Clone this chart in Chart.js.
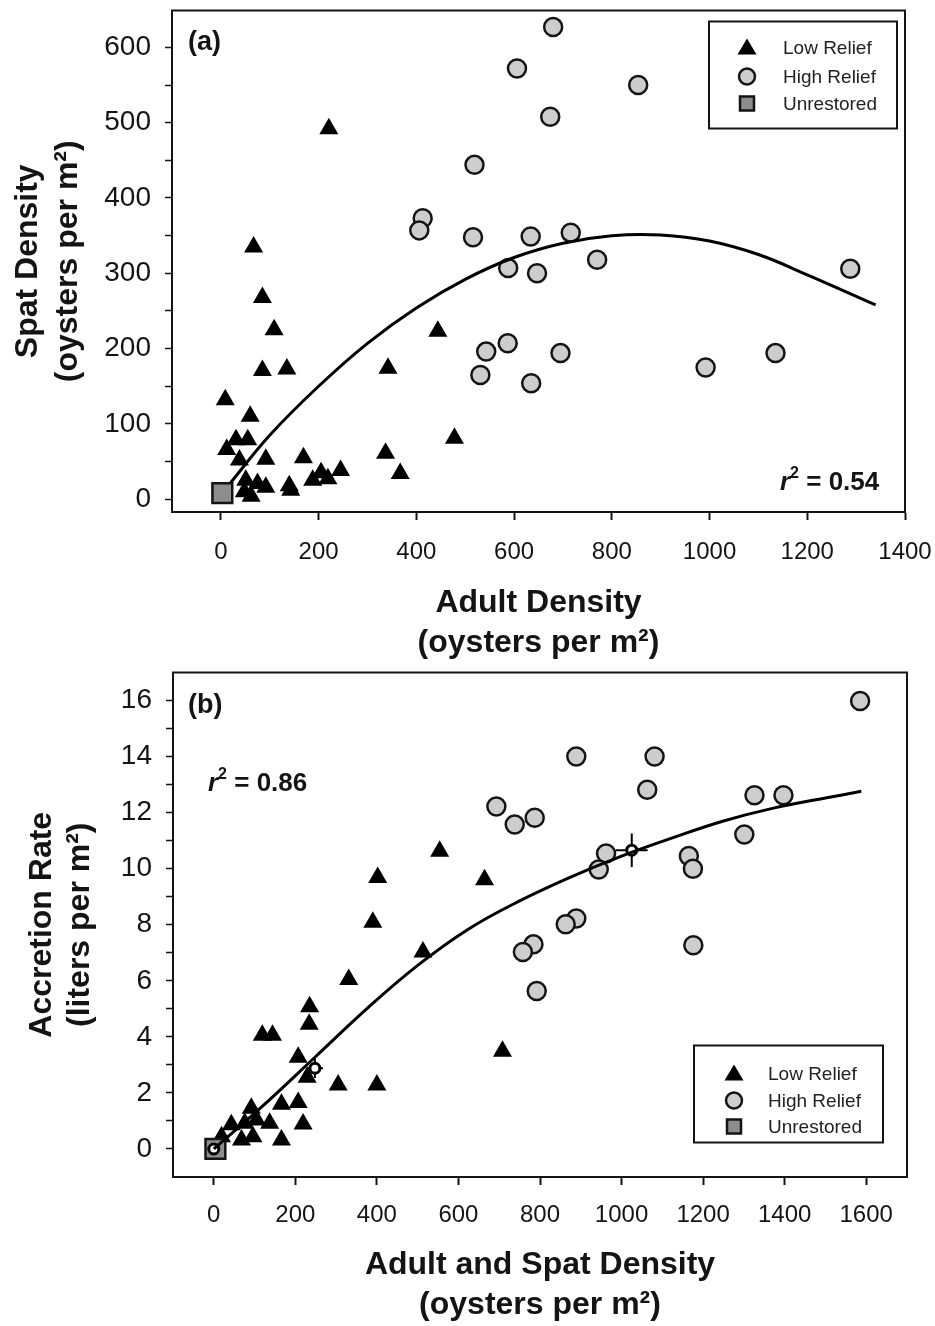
<!DOCTYPE html>
<html>
<head>
<meta charset="utf-8">
<script src="https://cdn.jsdelivr.net/npm/chart.js@4.4.1/dist/chart.umd.min.js"></script>
<style>
  html, body { margin: 0; padding: 0; background: #fff; }
  body { width: 935px; height: 1326px; position: relative; overflow: hidden; }
  canvas { position: absolute; left: 0; }
  #chartA { top: -6px; }
  #chartB { top: 656px; }
</style>
</head>
<body>
<canvas id="chartA" width="935" height="674"></canvas>
<canvas id="chartB" width="935" height="670"></canvas>
<script>
// #### Data, panel (a): adult density vs spat density (oysters per m2)
const lowReliefA = [
  [221, 492], [67, 335], [85, 268], [109, 225], [85, 171], [135, 173], [444, 223], [342, 174],
  [9, 132], [60, 110], [478, 81], [31, 79], [55, 79], [12, 66], [337, 61], [38, 52], [92, 53],
  [169, 55], [367, 34], [245, 38], [205, 35], [219, 27], [188, 25], [140, 18], [75, 21],
  [92, 16], [51, 25], [48, 10], [62, 4], [143, 12]
];
const highReliefA = [
  [680, 627], [606, 572], [854, 550], [674, 508], [519, 444], [413, 373], [406, 357], [516, 348],
  [634, 349], [716, 354], [588, 307], [647, 300], [770, 318], [1288, 306], [543, 196], [587, 207],
  [531, 165], [635, 154], [695, 194], [992, 175], [1135, 194]
];
const unrestoredA = [[3, 8]];
const fitCurveA = [
  [20, 22], [100, 85], [200, 150], [300, 207], [400, 254], [500, 292], [600, 321], [700, 340],
  [800, 350], [900, 351], [1000, 343], [1100, 325], [1200, 298], [1340, 258]
];
const xTicksA = [0, 200, 400, 600, 800, 1000, 1200, 1400];
const yTicksA = [0, 50, 100, 150, 200, 250, 300, 350, 400, 450, 500, 550, 600];
const r2A = '0.54';

// #### Data, panel (b): adult + spat density vs accretion rate (liters per m2)
const lowReliefB = [
  [513, 7.03], [331, 6.05], [235, 5.07], [234, 4.45], [119, 4.06], [144, 4.06], [207, 3.27],
  [229, 2.56], [305, 2.28], [400, 2.28], [166, 1.6], [207, 1.66], [219, 0.89], [166, 0.32],
  [92, 1.45], [76, 0.92], [105, 1.03], [43, 0.86], [68, 0.32], [96, 0.44], [137, 0.92],
  [19, 0.44], [402, 9.69], [390, 8.09], [554, 10.62], [664, 9.61], [708, 3.49]
];
const highReliefB = [
  [889, 14.0], [1081, 14.0], [1063, 12.82], [693, 12.22], [738, 11.58], [787, 11.82],
  [1326, 12.62], [1397, 12.62], [1301, 11.22], [962, 10.54], [944, 9.97], [1165, 10.45],
  [1175, 10.0], [889, 8.22], [863, 8.02], [784, 7.3], [758, 7.03], [1176, 7.27], [792, 5.64],
  [1585, 15.98]
];
const unrestoredB = [[4, 0]];
const groupMeansB = [[0, 0], [248, 2.88], [1025, 10.66]];
const meanErrXB = [0, 20, 39];
const meanErrYB = [0, 0.35, 0.6];
const fitCurveB = [
  [0, 0], [125, 1.6], [250, 3.3], [375, 5.0], [500, 6.55], [625, 7.85], [750, 8.85],
  [875, 9.7], [1000, 10.45], [1125, 11.1], [1250, 11.7], [1375, 12.17], [1500, 12.52], [1588, 12.76]
];
const xTicksB = [0, 200, 400, 600, 800, 1000, 1200, 1400, 1600];
const yTicksB = [0, 1, 2, 3, 4, 5, 6, 7, 8, 9, 10, 11, 12, 13, 14, 15, 16];
const r2B = '0.86';

const seriesLabels = ['Low Relief', 'High Relief', 'Unrestored'];

// #### Styles
const INK = '#141414';
const FONT = "'Liberation Sans', Arial, sans-serif";
const CIRCLE_FILL = '#cdcdcd';
const SQUARE_FILL = '#8d8d8d';

const toPoints = arr => arr.map(([x, y]) => ({ x, y }));

function seriesDatasets(low, high, unrestored, curve) {
  return [
    { label: seriesLabels[0], data: toPoints(low), pointStyle: 'triangle', pointRadius: 11,
      backgroundColor: '#000', borderColor: '#000', borderWidth: 0, order: 4 },
    { label: seriesLabels[1], data: toPoints(high), pointStyle: 'circle', pointRadius: 9,
      backgroundColor: CIRCLE_FILL, borderColor: INK, borderWidth: 2.5, order: 3 },
    { label: seriesLabels[2], data: toPoints(unrestored), pointStyle: 'rect', pointRadius: 14,
      backgroundColor: SQUARE_FILL, borderColor: INK, borderWidth: 2.5, order: 2 },
    { label: 'fit', data: toPoints(curve), showLine: true, pointRadius: 0, borderColor: '#000',
      borderWidth: 3, fill: false, tension: 0.4, order: 0 }
  ];
}

function axes(cfg) {
  return {
    x: {
      type: 'linear', min: cfg.xMin, max: cfg.xMax,
      border: { display: true, color: INK, width: 2 },
      grid: { drawOnChartArea: false, drawTicks: true, tickLength: 8, tickColor: INK, tickWidth: 2 },
      ticks: { autoSkip: false, maxRotation: 0, padding: cfg.xPad, color: INK,
        font: { family: FONT, size: 24 }, callback: v => String(v) },
      afterBuildTicks: s => { s.ticks = cfg.xTicks.map(value => ({ value })); },
      title: { display: true, text: cfg.xTitle, color: INK,
        font: { family: FONT, size: 32, weight: 'bold', lineHeight: 1.25 },
        padding: { top: 0, bottom: cfg.xTitlePad } },
      afterFit: s => { s.height = cfg.xHeight; s.paddingLeft = 0; s.paddingRight = 0; }
    },
    y: {
      type: 'linear', min: cfg.yMin, max: cfg.yMax,
      border: { display: true, color: INK, width: 2 },
      grid: { drawOnChartArea: false, drawTicks: true, tickLength: 7, tickColor: INK, tickWidth: 1.5 },
      ticks: { autoSkip: false, padding: 14, color: INK, font: { family: FONT, size: 28 },
        callback: v => (v % cfg.yLabelStep === 0 ? String(v) : '') },
      afterBuildTicks: s => { s.ticks = cfg.yTicks.map(value => ({ value })); },
      title: { display: true, text: cfg.yTitle, color: INK,
        font: { family: FONT, size: 32, weight: 'bold', lineHeight: cfg.yTitleLine },
        padding: { top: cfg.yTitlePad, bottom: 0 } },
      afterFit: s => { s.width = cfg.yWidth; s.paddingTop = 0; s.paddingBottom = 0; }
    }
  };
}

// frame, panel tag, r2 text and the inset legend
const annotate = {
  id: 'annotate',
  afterDraw(chart, args, o) {
    const { ctx, chartArea: a } = chart;
    ctx.save();
    ctx.strokeStyle = INK;
    ctx.lineWidth = 2;
    ctx.strokeRect(a.left, a.top, a.right - a.left, a.bottom - a.top);

    ctx.fillStyle = INK;
    ctx.textBaseline = 'middle';
    ctx.textAlign = 'left';
    ctx.font = `bold 27px ${FONT}`;
    ctx.fillText(o.tag, a.left + o.tagDx, a.top + o.tagDy);

    // r^2 = value
    let x = a.left + o.r2Dx;
    const y = a.top + o.r2Dy;
    ctx.font = `italic bold 26px ${FONT}`;
    ctx.fillText('r', x, y);
    x += ctx.measureText('r').width;
    ctx.font = `bold 16px ${FONT}`;
    ctx.fillText('2', x, y - 9);
    x += ctx.measureText('2').width;
    ctx.font = `bold 26px ${FONT}`;
    ctx.fillText(' = ' + o.r2, x, y);

    // legend box
    const L = o.legend;
    const bx = a.left + L.dx, by = a.top + L.dy;
    ctx.lineWidth = 2;
    ctx.strokeRect(bx, by, L.w, L.h);
    ctx.font = `19px ${FONT}`;
    chart.data.datasets.slice(0, 3).forEach((ds, i) => {
      const my = by + L.rows[i], mx = bx + L.markerDx;
      ctx.fillStyle = ds.backgroundColor;
      ctx.strokeStyle = INK;
      ctx.lineWidth = 2.5;
      ctx.beginPath();
      if (ds.pointStyle === 'triangle') {
        ctx.moveTo(mx, my - 9); ctx.lineTo(mx + 9.5, my + 7); ctx.lineTo(mx - 9.5, my + 7);
        ctx.closePath(); ctx.fill();
      } else if (ds.pointStyle === 'circle') {
        ctx.arc(mx, my, 8, 0, Math.PI * 2); ctx.fill(); ctx.stroke();
      } else {
        ctx.rect(mx - 7, my - 7, 14, 14); ctx.fill(); ctx.stroke();
      }
      ctx.fillStyle = '#222';
      ctx.fillText(ds.label, bx + L.textDx, my + 1);
    });
    ctx.restore();
  }
};

// error bars on the group means in panel (b)
const meanBars = {
  id: 'meanBars',
  beforeDatasetsDraw(chart) {
    const { ctx, scales: { x, y } } = chart;
    ctx.save();
    ctx.strokeStyle = '#000';
    ctx.lineWidth = 2;
    groupMeansB.forEach(([mx, my], i) => {
      if (!meanErrXB[i]) return;
      ctx.beginPath();
      ctx.moveTo(x.getPixelForValue(mx - meanErrXB[i]), y.getPixelForValue(my));
      ctx.lineTo(x.getPixelForValue(mx + meanErrXB[i]), y.getPixelForValue(my));
      ctx.moveTo(x.getPixelForValue(mx), y.getPixelForValue(my - meanErrYB[i]));
      ctx.lineTo(x.getPixelForValue(mx), y.getPixelForValue(my + meanErrYB[i]));
      ctx.stroke();
    });
    ctx.restore();
  }
};

const baseOptions = (layoutPad, scales, annot) => ({
  responsive: false,
  maintainAspectRatio: false,
  animation: false,
  layout: { padding: layoutPad },
  scales,
  plugins: { legend: { display: false }, tooltip: { enabled: false }, annotate: annot }
});

// #### Panel (a)
new Chart(document.getElementById('chartA'), {
  type: 'scatter',
  data: { datasets: seriesDatasets(lowReliefA, highReliefA, unrestoredA, fitCurveA) },
  options: baseOptions(
    { top: 0, right: 30, bottom: 0, left: 0 },
    axes({
      xMin: -100, xMax: 1400, xTicks: xTicksA, xPad: 18, xHeight: 156, xTitlePad: 5,
      xTitle: ['Adult Density', '(oysters per m²)'],
      yMin: -17, yMax: 649, yTicks: yTicksA, yLabelStep: 100, yWidth: 172, yTitlePad: 8, yTitleLine: 1.25,
      yTitle: ['Spat Density', '(oysters per m²)']
    }),
    { tag: '(a)', tagDx: 16, tagDy: 32, r2: r2A, r2Dx: 608, r2Dy: 472,
      legend: { dx: 537, dy: 11, w: 188, h: 107, rows: [26, 55, 82], markerDx: 38, textDx: 74 } }
  ),
  plugins: [annotate]
});

// #### Panel (b)
const datasetsB = seriesDatasets(lowReliefB, highReliefB, unrestoredB, fitCurveB);
datasetsB.push({ label: 'mean', data: toPoints(groupMeansB), pointStyle: 'circle', pointRadius: 5,
  backgroundColor: '#fff', borderColor: '#000', borderWidth: 3, order: 1 });

new Chart(document.getElementById('chartB'), {
  type: 'scatter',
  data: { datasets: datasetsB },
  options: baseOptions(
    { top: 0, right: 28, bottom: 0, left: 0 },
    axes({
      xMin: -100, xMax: 1700, xTicks: xTicksB, xPad: 16, xHeight: 149, xTitlePad: 1,
      xTitle: ['Adult and Spat Density', '(oysters per m²)'],
      yMin: -1, yMax: 17, yTicks: yTicksB, yLabelStep: 2, yWidth: 173, yTitlePad: 23, yTitleLine: 1.19,
      yTitle: ['Accretion Rate', '(liters per m²)']
    }),
    { tag: '(b)', tagDx: 15, tagDy: 33, r2: r2B, r2Dx: 35, r2Dy: 111,
      legend: { dx: 521, dy: 373, w: 189, h: 97, rows: [28, 55, 81], markerDx: 40, textDx: 74 } }
  ),
  plugins: [annotate, meanBars]
});
</script>
</body>
</html>
